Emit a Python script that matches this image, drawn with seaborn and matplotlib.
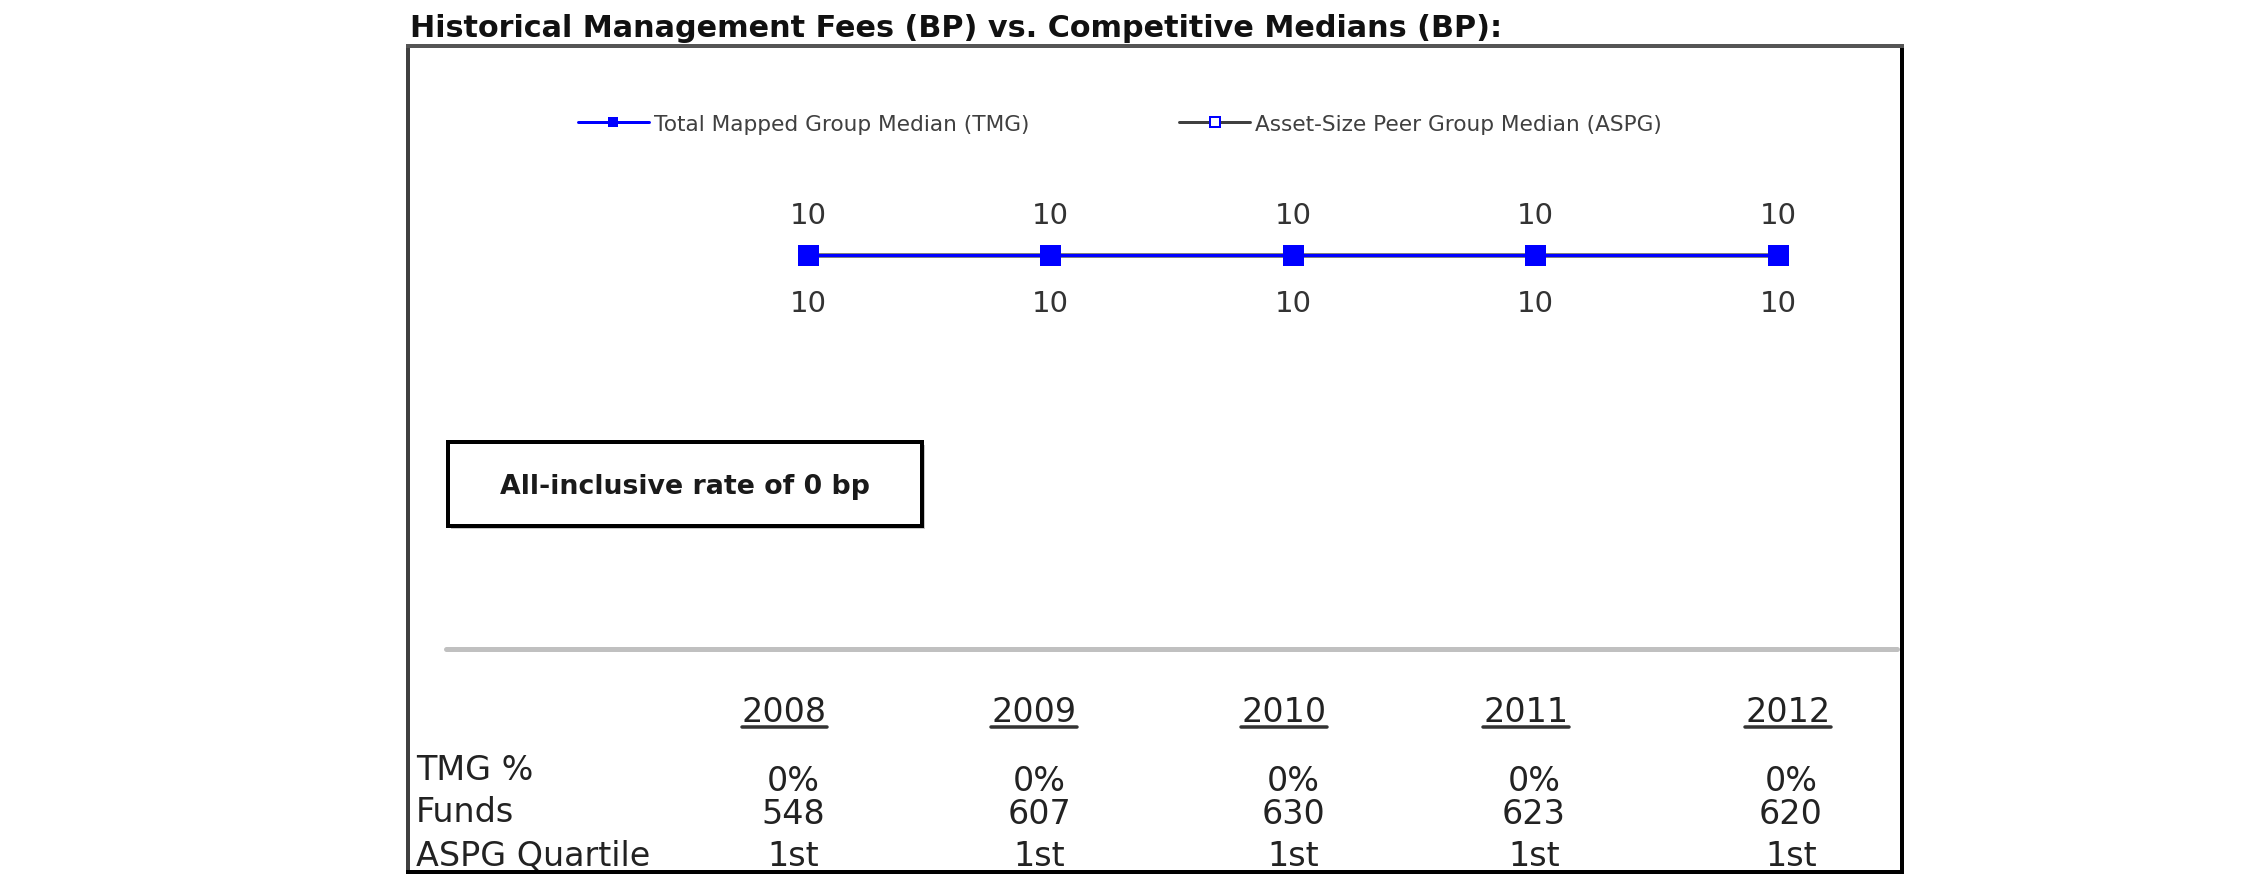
import numpy as np
import pandas as pd
import seaborn as sns
import matplotlib
matplotlib.use("Agg")
import matplotlib.pyplot as plt
from matplotlib.lines import Line2D
from matplotlib.patches import Rectangle

# ---------------- data ----------------
years = ["2008", "2009", "2010", "2011", "2012"]
tmg_median = [10, 10, 10, 10, 10]
aspg_median = [10, 10, 10, 10, 10]
tmg_pct = ["0%", "0%", "0%", "0%", "0%"]
funds = [548, 607, 630, 623, 620]
aspg_quartile = ["1st", "1st", "1st", "1st", "1st"]
row_labels = ["TMG %", "Funds", "ASPG Quartile"]
legend_labels = ["Total Mapped Group Median (TMG)", "Asset-Size Peer Group Median (ASPG)"]
title = "Historical Management Fees (BP) vs. Competitive Medians (BP):"
note = "All-inclusive rate of 0 bp"

# ---------------- style ----------------
sns.set_theme(style="white")
plt.rcParams["font.family"] = ["DejaVu Sans"]

W, H, DPI = 2250, 895, 100
fig = plt.figure(figsize=(W / DPI, H / DPI), dpi=DPI)
fig.patch.set_facecolor("white")


def fx(px):
    return px / W


def fy(py):
    return 1 - py / H


def pt(px):
    return px * 72 / DPI


# main chart axes = outer box
ax = fig.add_axes([fx(408), fy(873), (1902 - 408) / W, (873 - 47) / H])
df = pd.DataFrame({"idx": np.arange(len(years)), "year": years,
                   "TMG": tmg_median, "ASPG": aspg_median})

sns.lineplot(data=df, x="idx", y="ASPG", ax=ax, color="#808080", linewidth=pt(5),
             marker="s", markersize=pt(19), markerfacecolor="white",
             markeredgecolor="#0000ff", markeredgewidth=pt(2))
sns.lineplot(data=df, x="idx", y="TMG", ax=ax, color="#0000ff", linewidth=pt(3),
             marker="s", markersize=pt(19), markerfacecolor="#0000ff",
             markeredgecolor="#0000ff", markeredgewidth=0)

ax.set_xlim(-1.649, 4.5116)
ax.set_ylim(0, 13.387)
ax.set_xticks([])
ax.set_yticks([])
ax.set_xlabel("")
ax.set_ylabel("")

for side, col in [("left", "#404040"), ("top", "#555555"), ("right", "#000000"), ("bottom", "#000000")]:
    ax.spines[side].set_visible(True)
    ax.spines[side].set_color(col)
    ax.spines[side].set_linewidth(pt(4))

# value labels
for i in range(len(years)):
    ax.annotate(f"{tmg_median[i]}", (df["idx"][i], tmg_median[i]), xytext=(0, pt(40)),
                textcoords="offset points", ha="center", va="center",
                fontsize=21, color="#333333")
    ax.annotate(f"{aspg_median[i]}", (df["idx"][i], aspg_median[i]), xytext=(0, -pt(48)),
                textcoords="offset points", ha="center", va="center",
                fontsize=21, color="#333333")

# legend
h1 = Line2D([], [], color="#0000ff", lw=pt(3), marker="s", markersize=pt(10),
            markerfacecolor="#0000ff", markeredgecolor="#0000ff", markeredgewidth=0)
h2 = Line2D([], [], color="#404040", lw=pt(3), marker="s", markersize=pt(10),
            markerfacecolor="white", markeredgecolor="#0000ff", markeredgewidth=pt(2))
fs_leg = 15.6
em = fs_leg * DPI / 72
ax.legend([h1, h2], legend_labels, ncol=2, loc="center",
          bbox_to_anchor=(fx(1120), fy(125)), bbox_transform=fig.transFigure,
          frameon=False, fontsize=fs_leg, handlelength=71 / em,
          handletextpad=5 / em, columnspacing=150 / em, labelcolor="#404040",
          borderpad=0, borderaxespad=0)

# title
fig.text(fx(410), fy(37), title, fontsize=21.8, fontweight="bold",
         va="baseline", ha="left", color="#111111")

# separator
fig.add_artist(Line2D([fx(446), fx(1897)], [fy(650), fy(650)], color="#c0c0c0",
                      lw=pt(5), transform=fig.transFigure))

# note box
fig.add_artist(Rectangle((fx(451), fy(530)), (922 - 448) / W, (527 - 443) / H,
                         transform=fig.transFigure, facecolor="#c8c8c8",
                         edgecolor="none"))
fig.add_artist(Rectangle((fx(448), fy(527)), (922 - 448) / W, (527 - 443) / H,
                         transform=fig.transFigure, facecolor="white",
                         edgecolor="black", lw=pt(4)))
fig.text(fx(685), fy(487), note, fontsize=19.3, fontweight="bold",
         ha="center", va="center", color="#1a1a1a")

# table
year_x = [784, 1034, 1284, 1526, 1788]
val_x = [793, 1039, 1293, 1534, 1791]
label_y = [771, 813, 857]
value_y = [782, 815, 857]
rows = [tmg_pct, [str(v) for v in funds], aspg_quartile]
tfs = 24
tcol = "#222222"
year_texts = []
for i, yr in enumerate(years):
    t = fig.text(fx(year_x[i]), fy(712), yr, fontsize=tfs, ha="center", va="center", color=tcol)
    year_texts.append(t)
for r, lab in enumerate(row_labels):
    fig.text(fx(416), fy(label_y[r]), lab, fontsize=tfs, ha="left", va="center", color=tcol)
    for i in range(len(years)):
        fig.text(fx(val_x[i]), fy(value_y[r]), rows[r][i], fontsize=tfs,
                 ha="center", va="center", color=tcol)

fig.canvas.draw()
renderer = fig.canvas.get_renderer()
for t in year_texts:
    bb = t.get_window_extent(renderer)
    fig.add_artist(Line2D([bb.x0 / W, bb.x1 / W], [fy(728), fy(728)], color="#333333",
                          lw=pt(3.5), transform=fig.transFigure))

fig.savefig("out.png", dpi=DPI, facecolor="white")
